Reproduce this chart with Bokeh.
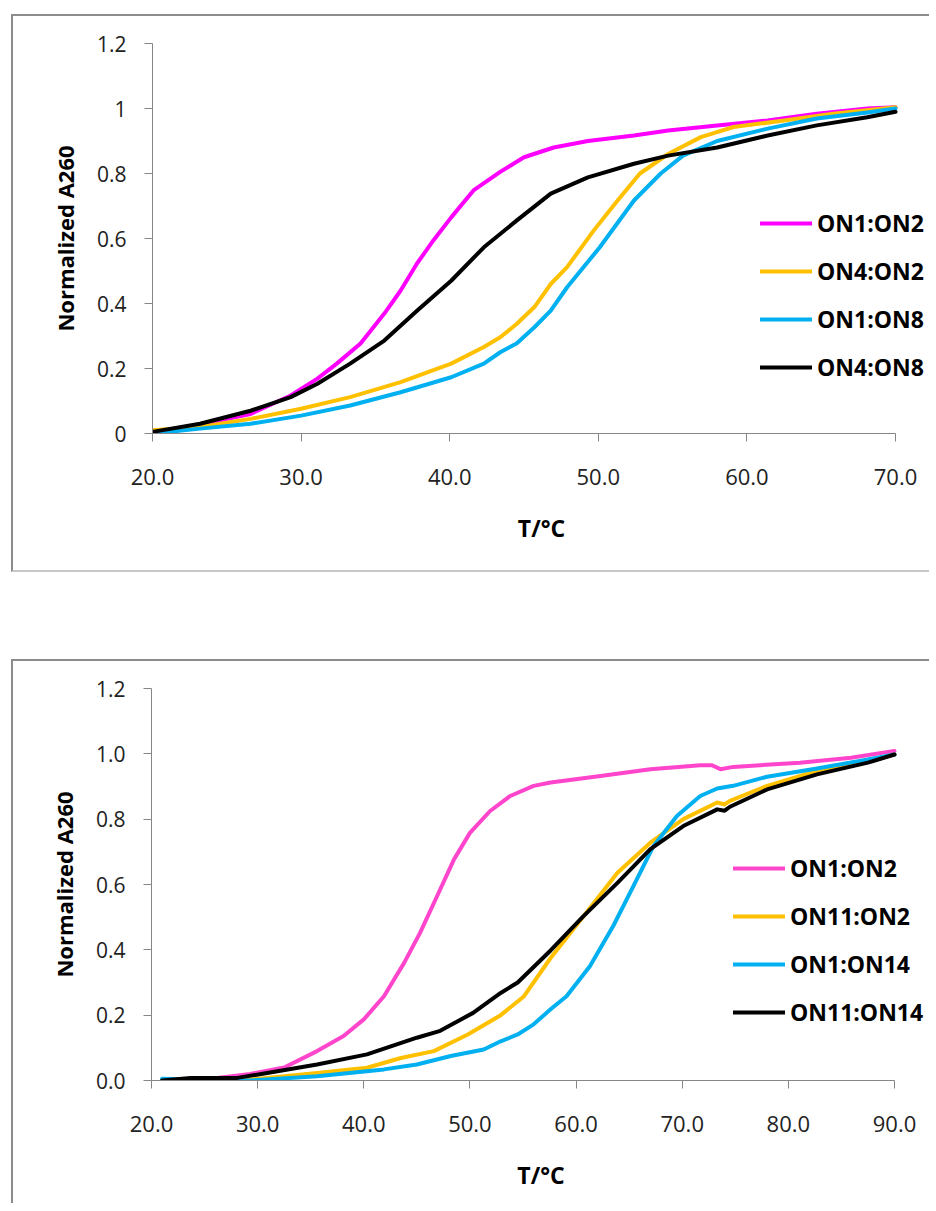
from bokeh.plotting import figure
from bokeh.models import Legend, LegendItem, FixedTicker, Range1d, Spacer
from bokeh.layouts import column, row
from bokeh.embed import file_html
from bokeh.resources import INLINE

# ---------------- Top chart data ----------------
top_labels = ["ON1:ON2", "ON4:ON2", "ON1:ON8", "ON4:ON8"]
top_colors = ["#FF00FF", "#FFC000", "#00B0F0", "#000000"]

top_t_on1on2 = [20.0, 22.0, 24.0, 26.6, 29.3, 31.1, 32.4, 34.0, 35.6, 36.7, 37.8, 38.9, 40.1, 41.6,
                43.4, 45.0, 47.0, 49.3, 52.4, 54.7, 58.0, 61.4, 64.7, 68.1, 70.0]
top_v_on1on2 = [-0.005, 0.012, 0.035, 0.06, 0.117, 0.169, 0.215, 0.277, 0.369, 0.44, 0.523, 0.594, 0.665, 0.748,
                0.805, 0.85, 0.88, 0.90, 0.917, 0.932, 0.948, 0.963, 0.984, 1.0, 1.004]

top_t_on4on2 = [20.0, 23.2, 26.6, 30.0, 33.3, 36.7, 40.1, 42.3, 43.4, 44.5, 45.7, 46.8, 47.9, 49.7,
                51.3, 52.8, 54.7, 56.9, 59.1, 62.5, 65.8, 70.0]
top_v_on4on2 = [0.01, 0.02, 0.045, 0.076, 0.112, 0.158, 0.215, 0.266, 0.296, 0.337, 0.389, 0.46, 0.512, 0.625,
                0.717, 0.80, 0.86, 0.912, 0.943, 0.963, 0.984, 1.004]

top_t_on1on8 = [20.0, 23.2, 26.6, 30.0, 33.3, 36.7, 40.1, 42.3, 43.4, 44.5, 45.7, 46.8, 47.9, 50.1,
                52.4, 54.2, 55.7, 58.0, 61.4, 64.7, 68.1, 70.0]
top_v_on1on8 = [0.0, 0.015, 0.03, 0.055, 0.086, 0.127, 0.173, 0.215, 0.25, 0.277, 0.327, 0.378, 0.45, 0.573,
                0.717, 0.80, 0.855, 0.90, 0.938, 0.969, 0.988, 1.0]

top_t_on4on8 = [20.0, 23.2, 26.6, 29.3, 31.1, 33.3, 35.6, 37.8, 40.1, 42.3, 44.5, 46.8, 49.3, 52.4,
                54.7, 58.0, 61.4, 64.7, 68.1, 70.0]
top_v_on4on8 = [0.005, 0.03, 0.07, 0.112, 0.153, 0.215, 0.286, 0.378, 0.47, 0.573, 0.655, 0.738, 0.788, 0.83,
                0.855, 0.88, 0.917, 0.948, 0.973, 0.99]

top_x_ticks = [20, 30, 40, 50, 60, 70]
top_x_tick_labels = ["20.0", "30.0", "40.0", "50.0", "60.0", "70.0"]
top_y_ticks = [0, 0.2, 0.4, 0.6, 0.8, 1.0, 1.2]
top_y_tick_labels = ["0", "0.2", "0.4", "0.6", "0.8", "1", "1.2"]

# ---------------- Bottom chart data ----------------
bot_labels = ["ON1:ON2", "ON11:ON2", "ON1:ON14", "ON11:ON14"]
bot_colors = ["#FF45CC", "#FFC000", "#00B0F0", "#000000"]

bot_t_on1on2 = [21.0, 26.2, 29.3, 32.5, 35.6, 38.1, 40.0, 41.9, 43.8, 45.3, 46.9, 48.5, 50.0, 51.9,
                53.8, 56.0, 57.6, 62.3, 67.0, 71.7, 72.8, 73.6, 74.8, 81.1, 85.9, 90.0]
bot_v_on1on2 = [0.0, 0.008, 0.02, 0.04, 0.09, 0.136, 0.187, 0.258, 0.36, 0.452, 0.564, 0.677, 0.758, 0.825,
                0.871, 0.902, 0.912, 0.932, 0.953, 0.965, 0.965, 0.953, 0.96, 0.973, 0.988, 1.009]

bot_t_on11on2 = [21.0, 29.3, 35.6, 40.3, 43.5, 46.6, 49.8, 52.9, 55.1, 57.6, 60.7, 63.9, 67.0, 70.1,
                 73.3, 74.0, 74.5, 78.0, 82.7, 87.5, 90.0]
bot_v_on11on2 = [0.0, 0.003, 0.023, 0.039, 0.069, 0.09, 0.141, 0.2, 0.258, 0.375, 0.503, 0.636, 0.728, 0.80,
                 0.851, 0.845, 0.856, 0.902, 0.948, 0.978, 0.998]

bot_t_on1on14 = [21.0, 24.6, 29.3, 35.6, 41.9, 45.0, 48.2, 51.3, 52.9, 54.5, 56.0, 57.6, 59.1, 61.3,
                 63.5, 65.4, 67.3, 69.5, 71.7, 73.3, 74.8, 78.0, 82.7, 87.5, 90.0]
bot_v_on1on14 = [0.005, 0.003, 0.0, 0.013, 0.034, 0.049, 0.075, 0.095, 0.12, 0.141, 0.172, 0.218, 0.258, 0.35,
                 0.473, 0.595, 0.718, 0.81, 0.871, 0.894, 0.902, 0.93, 0.955, 0.983, 0.998]

bot_t_on11on14 = [21.0, 23.7, 28.1, 30.9, 35.6, 40.3, 45.0, 47.2, 50.3, 52.9, 54.5, 57.6, 60.7, 63.9,
                  67.0, 70.1, 73.3, 74.0, 74.5, 78.0, 82.7, 87.5, 90.0]
bot_v_on11on14 = [0.0, 0.008, 0.008, 0.023, 0.049, 0.08, 0.131, 0.152, 0.207, 0.268, 0.30, 0.398, 0.503, 0.605,
                  0.708, 0.779, 0.83, 0.826, 0.838, 0.891, 0.937, 0.973, 0.998]

bot_x_ticks = [20, 30, 40, 50, 60, 70, 80, 90]
bot_x_tick_labels = ["20.0", "30.0", "40.0", "50.0", "60.0", "70.0", "80.0", "90.0"]
bot_y_ticks = [0, 0.2, 0.4, 0.6, 0.8, 1.0, 1.2]
bot_y_tick_labels = ["0.0", "0.2", "0.4", "0.6", "0.8", "1.0", "1.2"]

FONT = "Open Sans"
AXIS_COLOR = "#868686"
BORDER = "2px solid #8c8c8c"


def style_axes(p, xticks, xlabels, yticks, ylabels):
    p.xgrid.visible = False
    p.ygrid.visible = False
    p.outline_line_color = None
    p.xaxis.ticker = FixedTicker(ticks=xticks)
    p.xaxis.major_label_overrides = {t: l for t, l in zip(xticks, xlabels)}
    p.xaxis.bounds = (xticks[0], xticks[-1])
    p.yaxis.ticker = FixedTicker(ticks=yticks)
    p.yaxis.major_label_overrides = {t: l for t, l in zip(yticks, ylabels)}
    for ax in (p.xaxis[0], p.yaxis[0]):
        ax.axis_line_color = AXIS_COLOR
        ax.axis_line_width = 1
        ax.major_tick_line_color = AXIS_COLOR
        ax.major_tick_out = 8
        ax.major_tick_in = 0
        ax.minor_tick_line_color = None
        ax.major_label_text_font = FONT
        ax.major_label_text_color = "#222222"
        ax.axis_label_text_font = FONT
        ax.axis_label_text_font_style = "bold"
        ax.axis_label_text_color = "#000000"
    p.xaxis.major_label_text_font_size = "22px"
    p.yaxis.major_label_text_font_size = "21px"
    p.xaxis.axis_label = "T/°C"
    p.xaxis.axis_label_text_font_size = "23px"
    p.xaxis.major_label_standoff = 27
    p.xaxis.axis_label_standoff = 24
    p.yaxis.axis_label = "Normalized A260"
    p.yaxis.axis_label_text_font_size = "22px"
    p.yaxis.major_label_standoff = 18
    p.yaxis.axis_label_standoff = 14


def add_legend(p, renderers, labels, loc):
    legend = Legend(
        items=[LegendItem(label=l, renderers=[r]) for l, r in zip(labels, renderers)],
        location=loc, orientation="vertical",
        border_line_color=None, background_fill_alpha=0,
        padding=0, margin=0, spacing=16,
        glyph_width=52, glyph_height=32, label_height=32, label_standoff=5,
        label_text_font=FONT, label_text_font_style="bold", label_text_font_size="23px",
        label_text_color="#000000",
    )
    p.add_layout(legend, "center")


# ---------------- Top figure ----------------
# frame: 152..930 px (778 px), 743 px per 50 degrees; extra room right of 70 holds the legend
p1 = figure(width=918, height=558, x_range=Range1d(20, 20 + 778 * 50 / 743), y_range=Range1d(0, 1.2),
            output_backend="svg", toolbar_location=None,
            min_border_left=139, min_border_right=1, min_border_top=27, min_border_bottom=141)
style_axes(p1, top_x_ticks, top_x_tick_labels, top_y_ticks, top_y_tick_labels)
top_series = [(top_t_on1on2, top_v_on1on2), (top_t_on4on2, top_v_on4on2),
              (top_t_on1on8, top_v_on1on8), (top_t_on4on8, top_v_on4on8)]
r_top = []
for (t, v), c in zip(top_series, top_colors):
    r_top.append(p1.line(t, v, line_color=c, line_width=4, line_join="round", line_cap="round"))
add_legend(p1, r_top, top_labels, (608, 50))
p1.styles = {"border-top": BORDER, "border-left": BORDER, "border-bottom": "2px solid #c8c8c8"}

# ---------------- Bottom figure ----------------
p2 = figure(width=918, height=544, x_range=Range1d(20, 20 + 779 * 70 / 743), y_range=Range1d(0, 1.2),
            output_backend="svg", toolbar_location=None,
            min_border_left=138, min_border_right=1, min_border_top=27, min_border_bottom=125)
style_axes(p2, bot_x_ticks, bot_x_tick_labels, bot_y_ticks, bot_y_tick_labels)
bot_series = [(bot_t_on1on2, bot_v_on1on2), (bot_t_on11on2, bot_v_on11on2),
              (bot_t_on1on14, bot_v_on1on14), (bot_t_on11on14, bot_v_on11on14)]
r_bot = []
for (t, v), c in zip(bot_series, bot_colors):
    r_bot.append(p2.line(t, v, line_color=c, line_width=4, line_join="round", line_cap="round"))
add_legend(p2, r_bot, bot_labels, (582, 52))
p2.styles = {"border-top": BORDER, "border-left": BORDER}

layout = column(
    Spacer(height=14),
    row(Spacer(width=11), p1),
    Spacer(height=87),
    row(Spacer(width=11), p2),
)
open("out.html", "w").write(file_html(layout, INLINE))
